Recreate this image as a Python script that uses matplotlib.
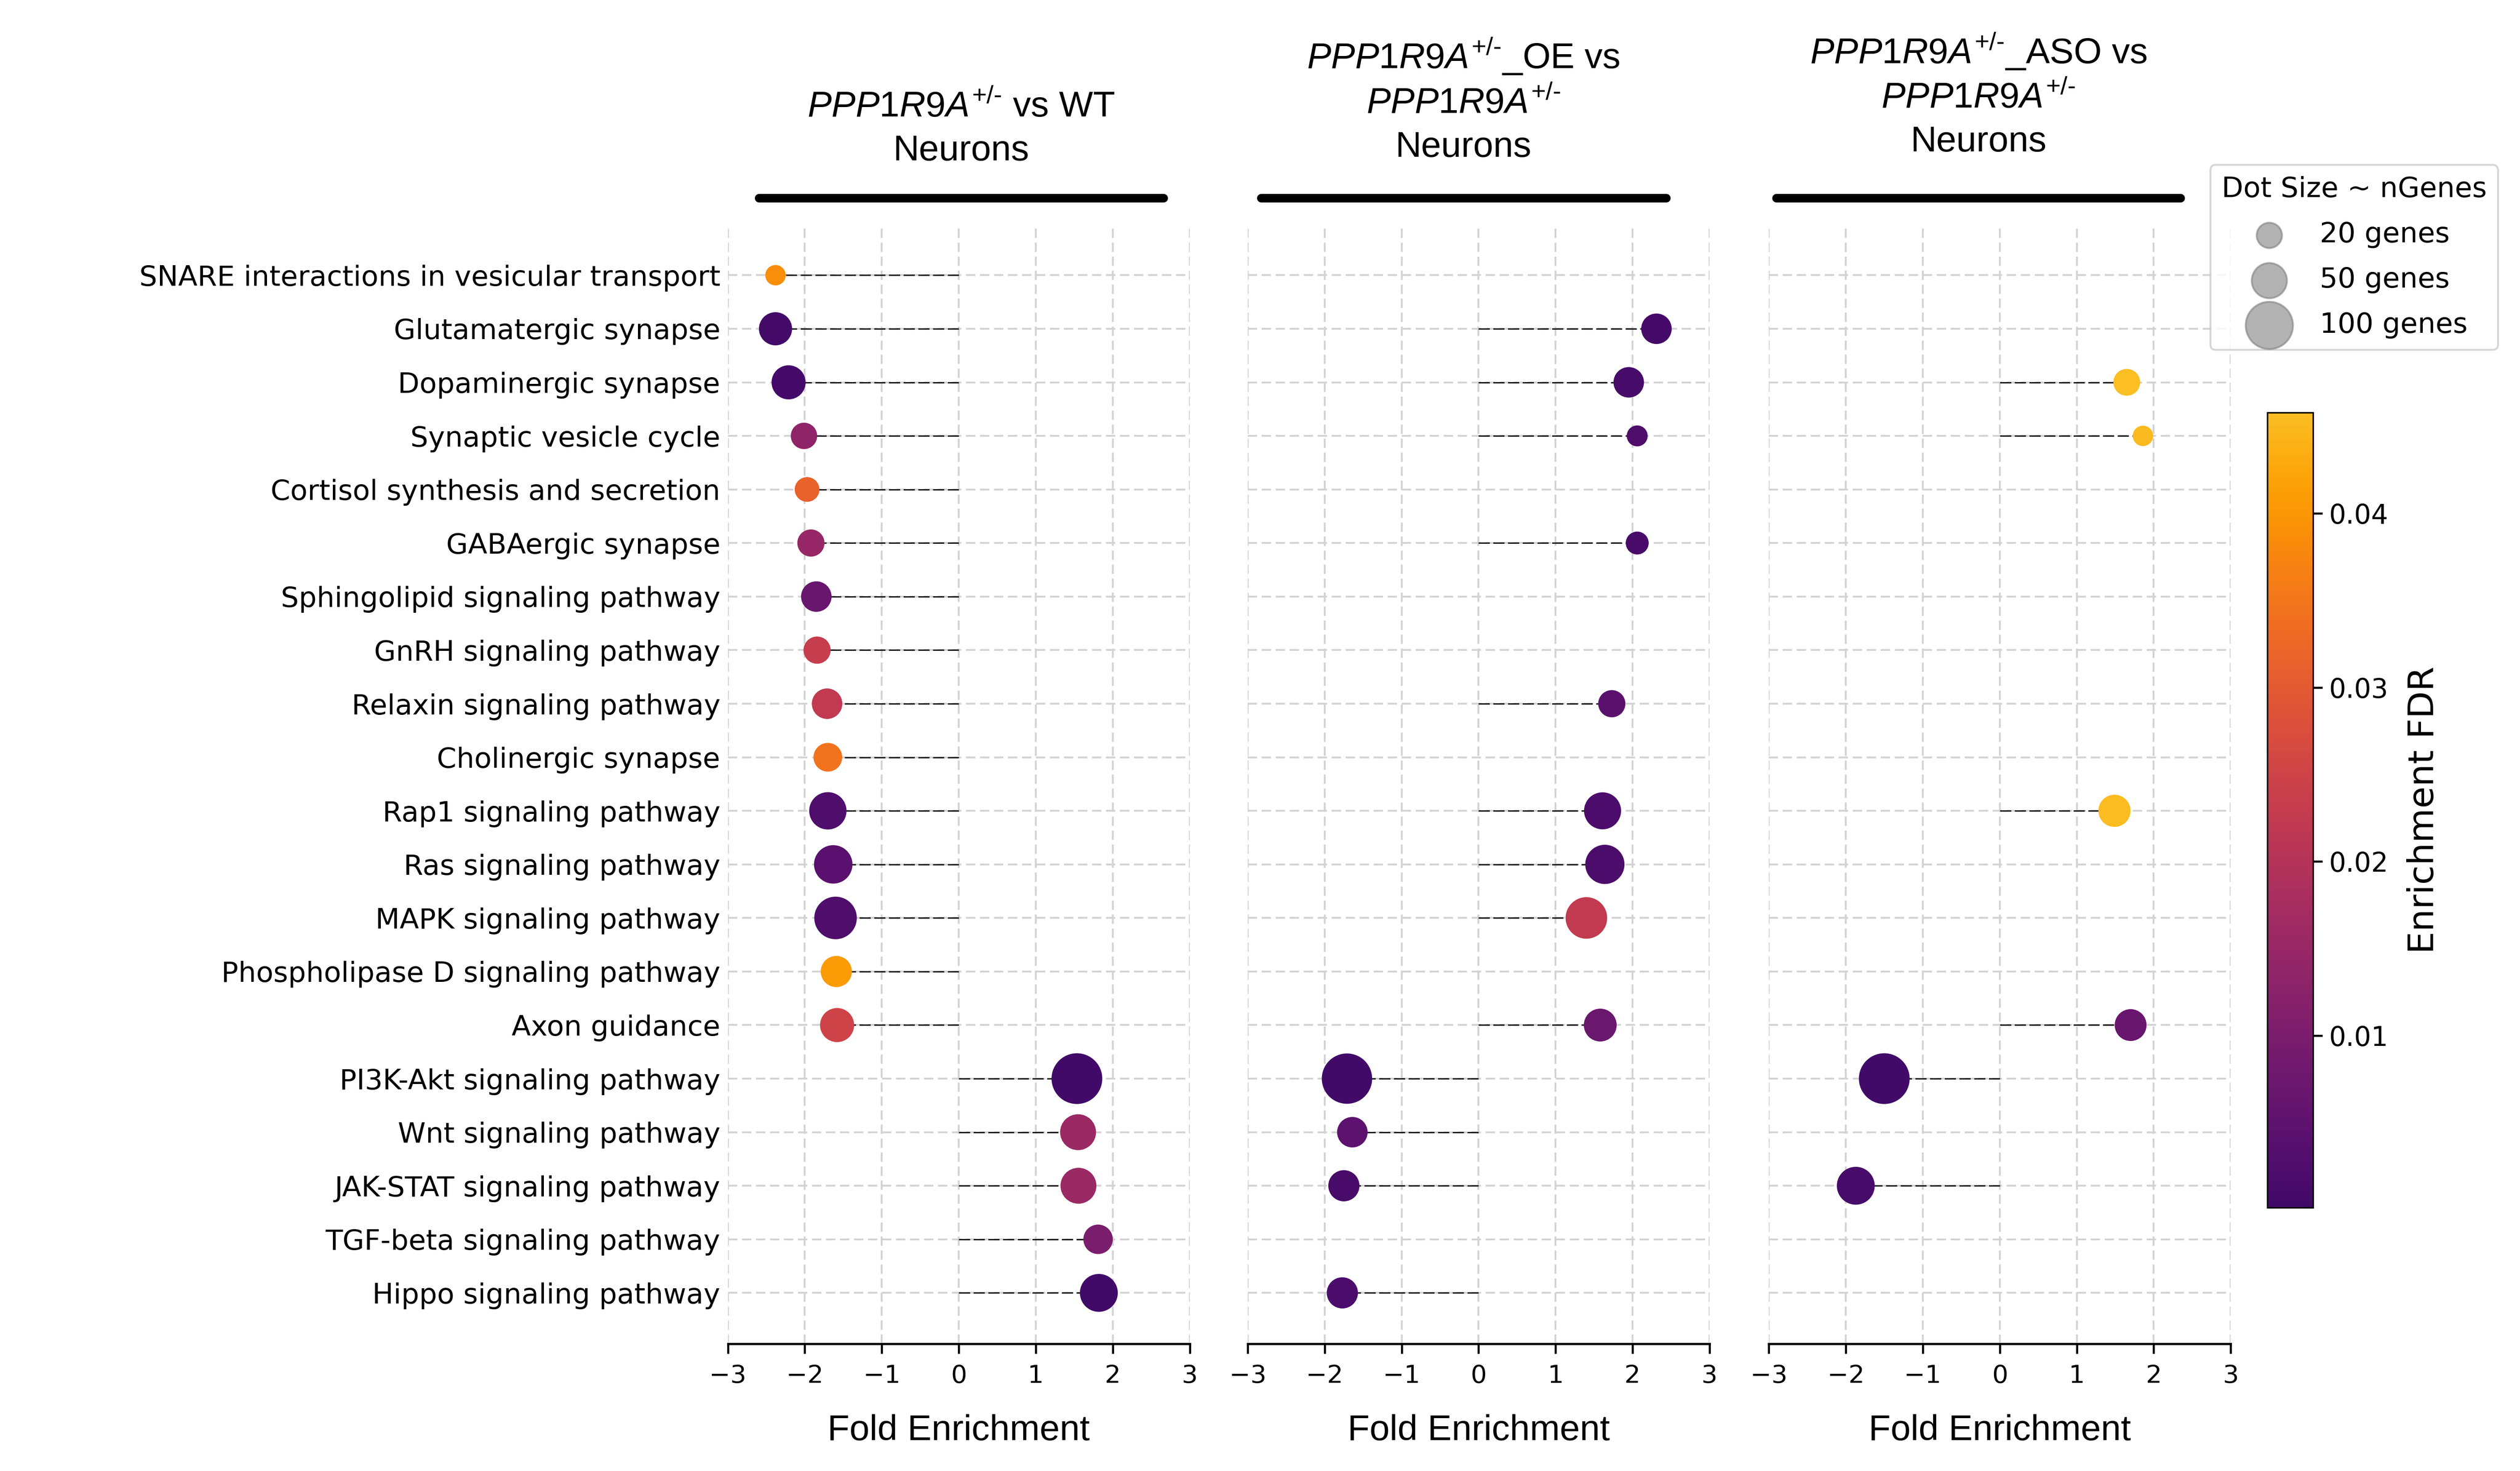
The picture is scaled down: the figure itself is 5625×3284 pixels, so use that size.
import numpy as np
import matplotlib
matplotlib.use('Agg')
import matplotlib.pyplot as plt
from matplotlib.colors import LinearSegmentedColormap, Normalize
from matplotlib.lines import Line2D

plt.rcParams['font.family'] = ['DejaVu Sans']
plt.rcParams['mathtext.fontset'] = 'custom'
plt.rcParams['mathtext.rm'] = 'Liberation Sans'
plt.rcParams['mathtext.it'] = 'Liberation Sans:italic'

nan = np.nan

pathways = ['SNARE interactions in vesicular transport', 'Glutamatergic synapse',
            'Dopaminergic synapse', 'Synaptic vesicle cycle',
            'Cortisol synthesis and secretion', 'GABAergic synapse',
            'Sphingolipid signaling pathway', 'GnRH signaling pathway',
            'Relaxin signaling pathway', 'Cholinergic synapse',
            'Rap1 signaling pathway', 'Ras signaling pathway',
            'MAPK signaling pathway', 'Phospholipase D signaling pathway',
            'Axon guidance', 'PI3K-Akt signaling pathway', 'Wnt signaling pathway',
            'JAK-STAT signaling pathway', 'TGF-beta signaling pathway',
            'Hippo signaling pathway']

# PPP1R9A+/- vs WT
fe_wt = [-2.38, -2.38, -2.21, -2.01, -1.97, -1.92, -1.85, -1.84, -1.71, -1.70,
         -1.70, -1.63, -1.60, -1.59, -1.58, 1.535, 1.55, 1.555, 1.81, 1.82]
fdr_wt = [0.039, 0.0005, 0.0008, 0.0134, 0.0314, 0.0148, 0.0070, 0.0233, 0.0225, 0.0345,
          0.0025, 0.0042, 0.0025, 0.0409, 0.025, 0.0003, 0.0155, 0.0155, 0.0099, 0.0004]
n_wt = [5, 37, 40, 18, 14, 20, 29, 20, 29, 24, 51, 55, 71, 31, 40, 108, 46, 46, 26, 53]

# PPP1R9A+/-_OE vs PPP1R9A+/-
fe_oe = [nan, 2.31, 1.95, 2.06, nan, 2.06, nan, nan, 1.73, nan,
         1.61, 1.64, 1.40, nan, 1.58, -1.71, -1.64, -1.75, nan, -1.77]
fdr_oe = [nan, 0.0008, 0.001, 0.0025, nan, 0.0015, nan, nan, 0.0045, nan,
          0.002, 0.0018, 0.0225, nan, 0.0071, 0.0003, 0.0046, 0.0012, nan, 0.0018]
n_oe = [nan, 29, 29, 6, nan, 10, nan, nan, 20, nan, 50, 58, 67, nan, 36, 106, 29, 31, nan, 31]

# PPP1R9A+/-_ASO vs PPP1R9A+/-
fe_aso = [nan, nan, 1.65, 1.86, nan, nan, nan, nan, nan, nan,
          1.49, nan, nan, nan, 1.70, -1.50, nan, -1.87, nan, nan]
fdr_aso = [nan, nan, 0.0458, 0.0452, nan, nan, nan, nan, nan, nan,
           0.0455, nan, nan, nan, 0.007, 0.0001, nan, 0.001, nan, nan]
n_aso = [nan, nan, 19, 5, nan, nan, nan, nan, nan, nan, 34, nan, nan, nan, 33, 108, nan, 53, nan, nan]

gene = r'$\mathit{PPP1R9A}^{\text{+/-}}$'
titles = [gene + ' vs WT\nNeurons',
          gene + '_OE vs\n' + gene + '\nNeurons',
          gene + '_ASO vs\n' + gene + '\nNeurons']
legend_genes = [20, 50, 100]

def dot_size(n):
    return 5.7 * np.asarray(n, dtype=float) + 70

inferno = plt.get_cmap('inferno')
cmap = LinearSegmentedColormap.from_list('inferno_cut', inferno(np.linspace(0.2, 0.85, 256)))
all_fdr = np.array(fdr_wt + fdr_oe + fdr_aso, dtype=float)
norm = Normalize(vmin=np.nanmin(all_fdr), vmax=np.nanmax(all_fdr))

fig = plt.figure(figsize=(18.75, 10.9467), dpi=300)
lefts = [0.2888, 0.4951, 0.7019]
title_y = [0.8858, 0.8883, 0.8919]
bars = [(0.30124, 0.46160), (0.50036, 0.66107), (0.70480, 0.86533)]
panels = [(fe_wt, fdr_wt, n_wt), (fe_oe, fdr_oe, n_oe), (fe_aso, fdr_aso, n_aso)]
ypos = np.arange(len(pathways))

for i, (fe, fdr, ng) in enumerate(panels):
    ax = fig.add_axes([lefts[i], 0.0865, 0.1833, 0.761])
    fe = np.array(fe, dtype=float)
    fdr = np.array(fdr, dtype=float)
    ng = np.array(ng, dtype=float)
    ok = ~np.isnan(fe)
    ax.hlines(ypos[ok], 0, fe[ok], color='#1a1a1a', linewidth=0.75,
              linestyle=(0, (8, 2.5)), zorder=2)
    ax.scatter(fe[ok], ypos[ok], s=dot_size(ng[ok]), c=fdr[ok], cmap=cmap, norm=norm, zorder=3)
    ax.set_xlim(-3, 3)
    ax.set_xticks([-3, -2, -1, 0, 1, 2, 3])
    ax.set_ylim(len(pathways) - 1 + 0.95, -0.95)
    ax.set_yticks(ypos)
    if i == 0:
        ax.set_yticklabels(pathways, fontsize=15.1)
    else:
        ax.set_yticklabels([])
    ax.tick_params(axis='y', length=0, pad=4)
    ax.tick_params(axis='x', labelsize=13.5, length=5.3, width=1.1, pad=5.5)
    ax.grid(True, color='#d3d3d3', linewidth=1.0, linestyle=(0, (5, 2.5)))
    ax.set_axisbelow(True)
    for sp in ['top', 'right', 'left']:
        ax.spines[sp].set_visible(False)
    ax.spines['bottom'].set_linewidth(1.2)
    ax.set_xlabel('Fold Enrichment', fontsize=19.3, family='Liberation Sans', labelpad=14)

    # title block + black bar above each panel
    fig.text(np.mean(bars[i]), title_y[i], titles[i], ha='center', va='bottom',
             fontsize=19.3, family='Liberation Sans', linespacing=1.4)
    fig.add_artist(Line2D(bars[i], [0.8653, 0.8653], transform=fig.transFigure,
                          color='black', linewidth=4.6, solid_capstyle='round'))
    if i == 2:
        handles = [ax.scatter([], [], s=dot_size(g), color='gray', alpha=0.6, label='%d genes' % g)
                   for g in legend_genes]

fig.legend(handles=handles, title='Dot Size ~ nGenes', loc='upper right',
           bbox_to_anchor=(0.9913, 0.8879), bbox_transform=fig.transFigure,
           borderaxespad=0, fontsize=15.1, title_fontsize=15.1, labelspacing=0.65)

cax = fig.add_axes([0.8997, 0.179, 0.0181, 0.5405])
sm = plt.cm.ScalarMappable(cmap=cmap, norm=norm)
cb = fig.colorbar(sm, cax=cax)
cb.ax.tick_params(labelsize=14.3, length=5, width=1.1)
cb.set_label('Enrichment FDR', fontsize=19, labelpad=10)

fig.savefig('out.png', dpi=300)
